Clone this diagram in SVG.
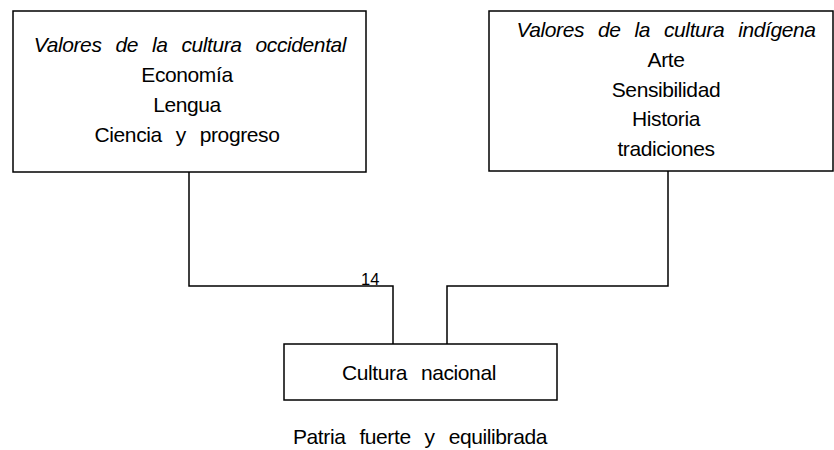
<svg xmlns="http://www.w3.org/2000/svg" width="834" height="450" viewBox="0 0 834 450">
<style>
.box{fill:#fff;stroke:#000;stroke-width:1.5}
.t{font-family:"Liberation Sans",Arial,sans-serif;font-size:21px;fill:#000;text-anchor:middle;letter-spacing:-0.4px;word-spacing:8.5px}
.i{font-style:italic}
.c{fill:none;stroke:#000;stroke-width:1.5}
.n{font-family:"Liberation Sans",Arial,sans-serif;font-size:16.5px;fill:#000}
</style>
<rect width="834" height="450" fill="#fff"/>
<g id="connectors">
<polyline class="c" points="189,172 189,286 393,286 393,344"/>
<polyline class="c" points="668,171 668,286 447,286 447,344"/>
</g>
<g id="occidental">
<rect class="box" x="13" y="11" width="353" height="161"/>
<text class="t i" x="190" y="52">Valores de la cultura occidental</text>
<text class="t" x="187" y="82">Economía</text>
<text class="t" x="187" y="112">Lengua</text>
<text class="t" x="187" y="142">Ciencia y progreso</text>
</g>
<g id="indigena">
<rect class="box" x="489" y="11" width="344" height="160"/>
<text class="t i" x="666" y="37">Valores de la cultura indígena</text>
<text class="t" x="666" y="67">Arte</text>
<text class="t" x="666" y="96.5">Sensibilidad</text>
<text class="t" x="666" y="126">Historia</text>
<text class="t" x="666" y="155.5">tradiciones</text>
</g>
<g id="nacional">
<rect class="box" x="284" y="344" width="273" height="56"/>
<text class="t" x="419" y="380">Cultura nacional</text>
</g>
<g id="labels">
<text class="n" x="361" y="285">14</text>
<text class="t" x="420" y="444">Patria fuerte y equilibrada</text>
</g>
</svg>
